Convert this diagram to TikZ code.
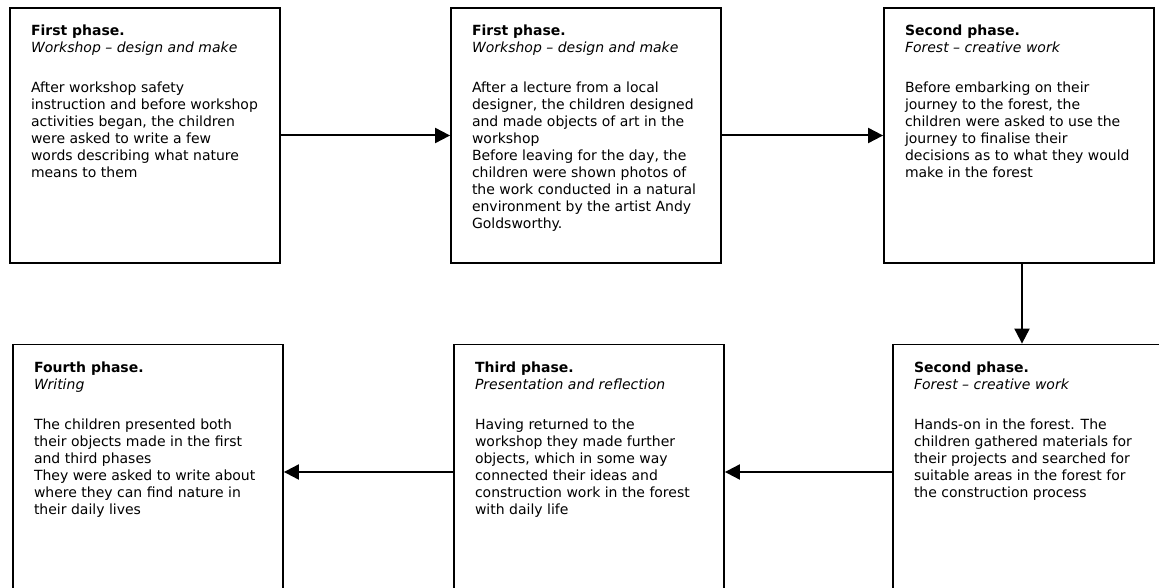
\documentclass[tikz,border=0pt]{standalone}
\usepackage{fontspec}
\setmainfont{DejaVu Sans}
\usetikzlibrary{arrows.meta,calc}

\begin{document}
\begin{tikzpicture}[x=1pt,y=-1pt,
  phasebox/.style={draw=black,line width=1.8pt,inner sep=0pt,
    font=\fontsize{14}{17}\selectfont},
  flow/.style={line width=2pt,-{Triangle[length=15pt,width=15pt]}}]
\useasboundingbox (0,0) rectangle (1159,588);
\clip (0,0) rectangle (1159,588);

% top row
\node[phasebox] (A1) at (145,135.5) {\parbox[c][255pt][t]{270pt}{\vspace*{17pt}\raggedright\leftskip=21pt
\textbf{First phase.}\\
\textit{Workshop – design and make}\\[23pt]
After workshop safety\\
instruction and before workshop\\
activities began, the children\\
were asked to write a few\\
words describing what nature\\
means to them}};

\node[phasebox] (A2) at (586,135.5) {\parbox[c][255pt][t]{270pt}{\vspace*{17pt}\raggedright\leftskip=21pt
\textbf{First phase.}\\
\textit{Workshop – design and make}\\[23pt]
After a lecture from a local\\
designer, the children designed\\
and made objects of art in the\\
workshop\\
Before leaving for the day, the\\
children were shown photos of\\
the work conducted in a natural\\
environment by the artist Andy\\
Goldsworthy.}};

\node[phasebox] (B1) at (1019,135.5) {\parbox[c][255pt][t]{270pt}{\vspace*{17pt}\raggedright\leftskip=21pt
\textbf{Second phase.}\\
\textit{Forest – creative work}\\[23pt]
Before embarking on their\\
journey to the forest, the\\
children were asked to use the\\
journey to finalise their\\
decisions as to what they would\\
make in the forest}};

% bottom row
\node[phasebox] (B2) at (1028,472) {\parbox[c][255pt][t]{270pt}{\vspace*{17pt}\raggedright\leftskip=21pt
\textbf{Second phase.}\\
\textit{Forest – creative work}\\[23pt]
Hands-on in the forest. The\\
children gathered materials for\\
their projects and searched for\\
suitable areas in the forest for\\
the construction process}};

\node[phasebox] (C) at (589,472) {\parbox[c][255pt][t]{270pt}{\vspace*{17pt}\raggedright\leftskip=21pt
\textbf{Third phase.}\\
\textit{Presentation and reflection}\\[23pt]
Having returned to the\\
workshop they made further\\
objects, which in some way\\
connected their ideas and\\
construction work in the forest\\
with daily life}};

\node[phasebox] (D) at (148,472) {\parbox[c][255pt][t]{270pt}{\vspace*{17pt}\raggedright\leftskip=21pt
\textbf{Fourth phase.}\\
\textit{Writing}\\[23pt]
The children presented both\\
their objects made in the first\\
and third phases\\
They were asked to write about\\
where they can find nature in\\
their daily lives}};

\coordinate (down) at ($(B1.south)+(3,0)$);

\draw[flow] (A1.east) -- (A2.west);
\draw[flow] (A2.east) -- (B1.west);
\draw[flow] (down) -- (down |- B2.north);
\draw[flow] (B2.west) -- (C.east);
\draw[flow] (C.west) -- (D.east);

\end{tikzpicture}
\end{document}
